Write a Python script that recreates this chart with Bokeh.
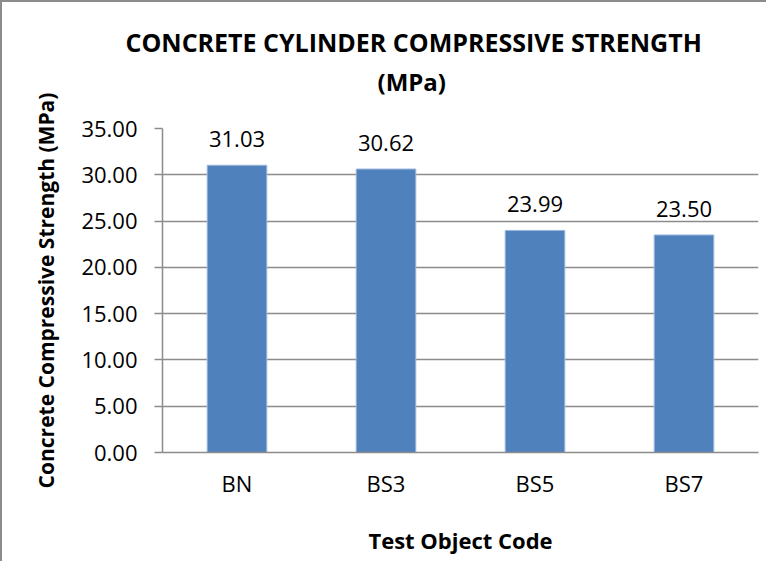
from bokeh.plotting import figure
from bokeh.models import Range1d, FixedTicker, NumeralTickFormatter, Title, ColumnDataSource
from bokeh.core.properties import value
from bokeh.embed import file_html
from bokeh.resources import INLINE

categories = ["BN", "BS3", "BS5", "BS7"]
strengths = [31.03, 30.62, 23.99, 23.50]
y_ticks = [0, 5, 10, 15, 20, 25, 30, 35]

FONT = "Open Sans"
GRAY = "#8c8c8c"
BLUE = "#4f81bd"

src = ColumnDataSource(dict(cat=categories, val=strengths,
                            lab=[f"{v:.2f}" for v in strengths]))

p = figure(x_range=categories, y_range=Range1d(0, 35),
           width=766, height=561, output_backend="svg", toolbar_location=None,
           min_border_left=160, min_border_right=10, min_border_top=126,
           min_border_bottom=111)
p.styles = {"border-left": "2px solid #8c8c8c", "border-top": "2px solid #8c8c8c"}
p.outline_line_color = None
p.background_fill_color = "white"
p.border_fill_color = "white"

p.vbar(x="cat", top="val", width=0.4, source=src, fill_color=BLUE,
       line_color="#9db7dc", line_width=1)
p.text(x="cat", y="val", text="lab", source=src, text_align="center",
       text_baseline="alphabetic", y_offset=-26, text_font=value(FONT),
       text_font_size="22px", text_color="black")

# axes
p.yaxis.ticker = FixedTicker(ticks=y_ticks)
p.yaxis.formatter = NumeralTickFormatter(format="0.00")
p.yaxis.major_tick_out = 8
p.yaxis.major_tick_in = 0
p.yaxis.minor_tick_line_color = None
p.yaxis.major_tick_line_color = GRAY
p.yaxis.major_tick_line_width = 1.5
p.yaxis.axis_line_color = GRAY
p.yaxis.axis_line_width = 1.5
p.yaxis.major_label_standoff = 17
p.yaxis.major_label_text_font = FONT
p.yaxis.major_label_text_font_size = "22px"
p.yaxis.major_label_text_color = "black"
p.yaxis.axis_label = "Concrete Compressive Strength (MPa)"
p.yaxis.axis_label_text_font = FONT
p.yaxis.axis_label_text_font_style = "bold"
p.yaxis.axis_label_text_font_size = "21px"
p.yaxis.axis_label_text_color = "black"
p.yaxis.axis_label_standoff = 18

p.xaxis.major_tick_out = 0
p.xaxis.major_tick_in = 0
p.xaxis.major_tick_line_color = None
p.xaxis.minor_tick_line_color = None
p.xaxis.axis_line_color = GRAY
p.xaxis.axis_line_width = 1.5
p.xaxis.major_label_standoff = 15
p.xaxis.major_label_text_font = FONT
p.xaxis.major_label_text_font_size = "22px"
p.xaxis.major_label_text_color = "black"
p.xaxis.axis_label = "Test Object Code"
p.xaxis.axis_label_text_font = FONT
p.xaxis.axis_label_text_font_style = "bold"
p.xaxis.axis_label_text_font_size = "22px"
p.xaxis.axis_label_text_color = "black"
p.xaxis.axis_label_standoff = 24

p.xgrid.grid_line_color = None
p.ygrid.grid_line_color = GRAY
p.ygrid.grid_line_width = 1.5

spacer = Title(text=" ", standoff=24, text_font=FONT, text_font_size="2px")
t2 = Title(text="(MPa)", align="left", offset=215, standoff=4,
           text_font=FONT, text_font_size="24px", text_font_style="bold",
           text_color="black")
t1 = Title(text="CONCRETE CYLINDER COMPRESSIVE STRENGTH", align="left", offset=-37,
           standoff=4, text_font=FONT, text_font_size="25px", text_font_style="bold",
           text_color="black")
p.add_layout(spacer, "above")
p.add_layout(t2, "above")
p.add_layout(t1, "above")

open("out.html", "w").write(file_html(p, INLINE))
